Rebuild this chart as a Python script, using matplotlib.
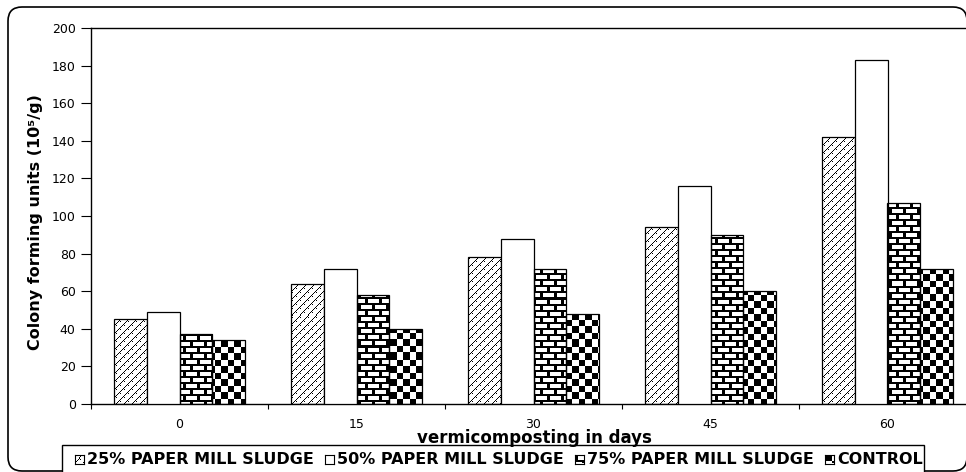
import numpy as np
import matplotlib
matplotlib.use("Agg")
import matplotlib.pyplot as plt
from matplotlib.patches import Rectangle, FancyBboxPatch
from matplotlib.transforms import IdentityTransform

# ---- data -------------------------------------------------------------
days = ["0", "15", "30", "45", "60"]
series_names = ["25% PAPER MILL SLUDGE", "50% PAPER MILL SLUDGE",
                "75% PAPER MILL SLUDGE", "CONTROL"]
sludge_25 = [45, 64, 78, 94, 142]
sludge_50 = [49, 72, 88, 116, 183]
sludge_75 = [37, 58, 72, 90, 107]
control = [34, 40, 48, 60, 72]
y_ticks = [0, 20, 40, 60, 80, 100, 120, 140, 160, 180, 200]

# ---- figure geometry (pixels, measured from the top-left corner) -------
W_PX, H_PX, DPI = 966, 472, 100
fig = plt.figure(figsize=(W_PX / DPI, H_PX / DPI), dpi=DPI)
fig.patch.set_facecolor("white")


def fx(px):
    return px / W_PX


def fy(py):
    return 1 - py / H_PX


AX_L, AX_R, AX_T, AX_B = 91, 976, 28, 404
ax = fig.add_axes([fx(AX_L), fy(AX_B), (AX_R - AX_L) / W_PX, (AX_B - AX_T) / H_PX])
ax.set_zorder(2)


# ---- fill textures ------------------------------------------------------
def zigzag(h, w):
    r, c = np.mgrid[0:h, 0:w]
    up = (c + r) % 8 == 0
    down = ((c - r) % 8 == 0) & (((c + r) // 4) % 2 == 0)
    return np.where(up | down, 0.0, 1.0)


def bricks(h, w):
    r, c = np.mgrid[0:h, 0:w]
    course = r // 6
    mortar_h = (r % 6) < 2
    shift = (course % 2) * 7
    mortar_v = ((c + shift) % 14) < 3
    return np.where(mortar_h | mortar_v, 0.0, 1.0)


def checker(h, w, cell=6.5):
    r, c = np.mgrid[0:h, 0:w]
    return ((np.floor(r / cell) + np.floor(c / cell)) % 2).astype(float)


series = [sludge_25, sludge_50, sludge_75, control]
textures = [zigzag, None, bricks, checker]

x = np.arange(len(days))
bw = 0.184
ah, aw = AX_B - AX_T, AX_R - AX_L
for i, (vals, tex_fn) in enumerate(zip(series, textures)):
    bars = ax.bar(x + (i - 1.5) * bw, vals, bw,
                  facecolor="white" if tex_fn is None else "none",
                  edgecolor="black", linewidth=0.9, zorder=3)
    if tex_fn is not None:
        tex = tex_fn(ah, aw)
        for b in bars:
            im = ax.imshow(tex, extent=(0, 1, 0, 1), transform=ax.transAxes,
                           cmap="gray", vmin=0, vmax=1,
                           interpolation="nearest", aspect="auto", zorder=2)
            im.set_clip_path(b)

ax.set_xlim(-0.5, len(days) - 0.5)
ax.set_ylim(0, 200)

# ---- axes styling -------------------------------------------------------
tick_font = dict(family="DejaVu Sans", size=9)
ax.set_xticks(x)
ax.set_xticklabels(days, **tick_font)
ax.set_xticks(np.arange(-0.5, len(days), 1.0), minor=True)
ax.tick_params(axis="x", which="major", length=0, pad=10)
ax.tick_params(axis="x", which="minor", length=3.5, width=0.8, direction="out")
ax.set_yticks(y_ticks)
ax.set_yticklabels([str(v) for v in y_ticks], **tick_font)
ax.tick_params(axis="y", length=7, width=0.8, pad=4, direction="out")
for side in ("left", "bottom", "top"):
    ax.spines[side].set_linewidth(1.0)
ax.spines["right"].set_visible(False)

fig.text(fx(534), fy(438), "vermicomposting in days", ha="center", va="center",
         family="DejaVu Sans", weight="bold", size=12)
fig.text(fx(36), fy(222), "Colony forming units (10⁵/g)", ha="center", va="center",
         rotation=90, family="DejaVu Sans", weight="bold", size=11.5)

# ---- outer rounded frame ------------------------------------------------
frame = FancyBboxPatch((8, H_PX - 471), 959, 464,
                       boxstyle="round,pad=0,rounding_size=14",
                       transform=IdentityTransform(), fill=False,
                       edgecolor="black", linewidth=1.2, zorder=0)
fig.add_artist(frame)

# ---- legend -------------------------------------------------------------
LEG_L, LEG_R, LEG_T = 62, 924, 445
leg_box = Rectangle((LEG_L, -5), LEG_R - LEG_L, (H_PX - LEG_T) + 5,
                    transform=IdentityTransform(), facecolor="white",
                    edgecolor="black", linewidth=1.0, zorder=1)
fig.add_artist(leg_box)

marker_x = [75, 325, 575, 825]
LEG_Y = 459
for name, tex_fn, mx in zip(series_names, textures, marker_x):
    mk = fig.add_axes([fx(mx), fy(LEG_Y + 4.5), 9 / W_PX, 9 / H_PX])
    mk.set_zorder(5)
    tex = np.ones((9, 9)) if tex_fn is None else tex_fn(9, 9)
    mk.imshow(tex, cmap="gray", vmin=0, vmax=1, interpolation="nearest",
              aspect="auto")
    mk.set_xticks([])
    mk.set_yticks([])
    for sp in mk.spines.values():
        sp.set_linewidth(0.8)
    fig.text(fx(mx + 12), fy(LEG_Y), name, ha="left", va="center",
             family="DejaVu Sans", weight="bold", size=11.5, zorder=6)

fig.savefig("out.png", dpi=DPI)
